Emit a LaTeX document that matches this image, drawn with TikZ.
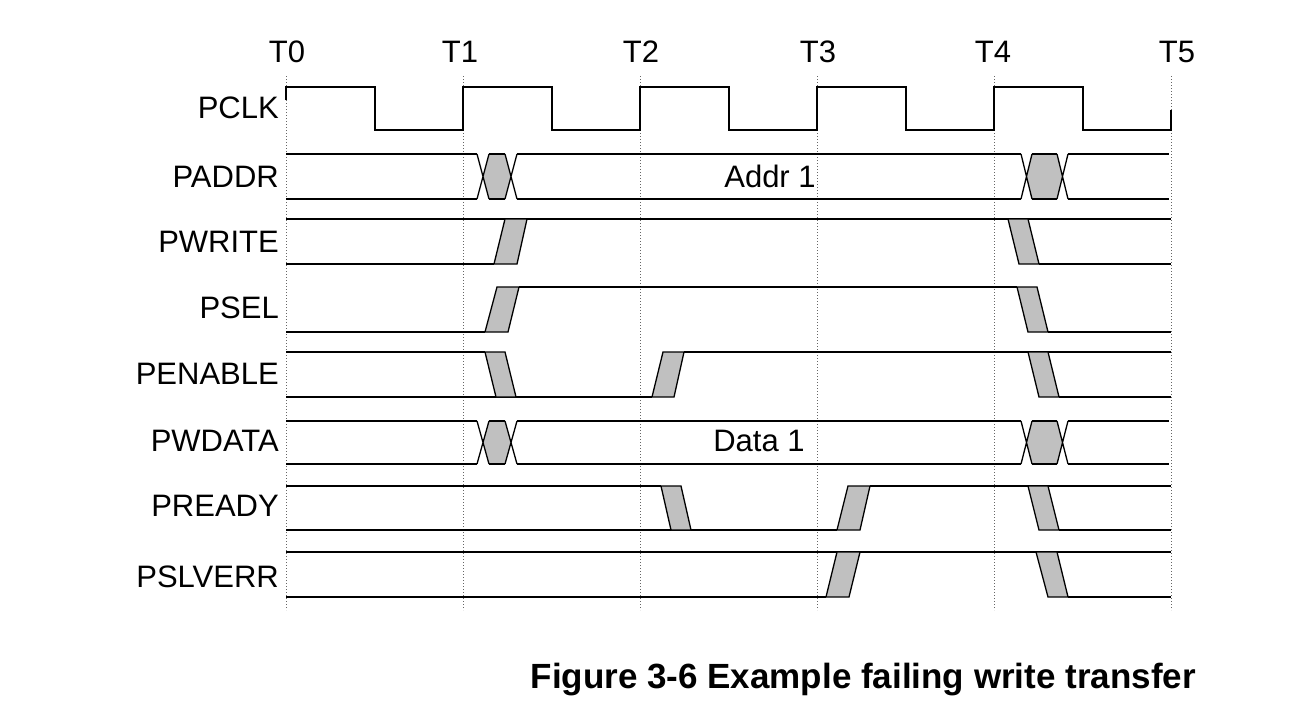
\documentclass[tikz,border=0pt]{standalone}
\usepackage{fontspec}
\setmainfont{Liberation Sans}
\tikzset{
  sig/.style={line width=1.3pt, line join=miter},
  trans/.style={sig, fill={rgb,255:red,192;green,192;blue,192}},
  tick/.style={dotted, line width=1pt, black!60},
  siglabel/.style={anchor=base east, inner sep=0pt, font=\fontsize{31}{32}\selectfont},
  tlabel/.style={anchor=base, inner sep=0pt, font=\fontsize{31}{32}\selectfont},
  buslabel/.style={inner sep=0pt, font=\fontsize{31}{32}\selectfont},
  titlelabel/.style={anchor=base east, inner sep=0pt, font=\fontsize{35}{36}\selectfont\bfseries}
}
% edge parallelogram: b1 b2 (bottom) t1 t2 (top) ytop ybot
\newcommand{\sigEdge}[6]{%
  \filldraw[trans] (#1,#6)--(#3,#5)--(#4,#5)--(#2,#6)--cycle;}
% bus crossing: xa xb xc xd ytop ybot
\newcommand{\busX}[6]{%
  \fill[trans,draw=none] ({(#1+#2)/2},{(#5+#6)/2})--(#2,#5)--(#3,#5)--({(#3+#4)/2},{(#5+#6)/2})--(#3,#6)--(#2,#6)--cycle;
  \draw[sig] (#2,#5)--(#3,#5) (#2,#6)--(#3,#6);
  \draw[sig] (#1,#5)--(#2,#6) (#1,#6)--(#2,#5) (#3,#5)--(#4,#6) (#3,#6)--(#4,#5);}
\begin{document}
\begin{tikzpicture}[x=1pt,y=-1pt]
\useasboundingbox (0,0) rectangle (1296,724);
% time ticks
\foreach \n/\x/\lx in {0/286/287,1/463/460,2/640/641,3/817/818,4/994/993,5/1171/1177}{
  \draw[tick] (\x,76) -- (\x,610);
  \node[tlabel] (T\n) at (\lx,62) {T\n};
}
% labels
\node[siglabel] (lpclk) at (279,118) {PCLK};
\node[siglabel] (lpaddr) at (279,187) {PADDR};
\node[siglabel] (lpwrite) at (279,252) {PWRITE};
\node[siglabel] (lpsel) at (279,318) {PSEL};
\node[siglabel] (lpenable) at (279,384) {PENABLE};
\node[siglabel] (lpwdata) at (279,451) {PWDATA};
\node[siglabel] (lpready) at (279,516) {PREADY};
\node[siglabel] (lpslverr) at (279,587) {PSLVERR};
% PCLK
\draw[sig] (286,100)--(286,87)--(375,87)--(375,130)--(463,130)--(463,87)--(552,87)--(552,130)
  --(640,130)--(640,87)--(729,87)--(729,130)--(817,130)--(817,87)--(906,87)--(906,130)
  --(994,130)--(994,87)--(1083,87)--(1083,130)--(1171,130)--(1171,110);
% PADDR
\draw[sig] (286,154)--(477,154) (286,199)--(477,199)
  (517,154)--(1021,154) (517,199)--(1021,199)
  (1068,154)--(1169,154) (1068,199)--(1169,199);
\busX{477}{489}{505}{517}{154}{199}
\busX{1021}{1032}{1057}{1068}{154}{199}
\node[buslabel] (addr) at (770,176.5) {Addr 1};
% PWRITE
\draw[sig] (286,219)--(1171,219) (286,264)--(494,264) (1039,264)--(1171,264);
\sigEdge{494}{517}{505}{527}{219}{264}
\sigEdge{1019}{1039}{1008}{1028}{219}{264}
% PSEL
\draw[sig] (286,332)--(485,332) (519,287)--(1017,287) (1048,332)--(1171,332);
\sigEdge{485}{508}{497}{519}{287}{332}
\sigEdge{1028}{1048}{1017}{1037}{287}{332}
% PENABLE
\draw[sig] (286,352)--(485,352) (286,397)--(652,397) (684,352)--(1171,352) (1059,397)--(1171,397);
\sigEdge{496}{516}{485}{505}{352}{397}
\sigEdge{652}{674}{663}{684}{352}{397}
\sigEdge{1039}{1059}{1028}{1048}{352}{397}
% PWDATA
\draw[sig] (286,421)--(477,421) (286,464)--(477,464)
  (517,421)--(1021,421) (517,464)--(1021,464)
  (1068,421)--(1169,421) (1068,464)--(1169,464);
\busX{477}{489}{505}{517}{421}{464}
\busX{1021}{1032}{1057}{1068}{421}{464}
\node[buslabel] (data) at (759,441) {Data 1};
% PREADY
\draw[sig] (286,486)--(661,486) (286,530)--(837,530) (870,486)--(1171,486) (1059,530)--(1171,530);
\sigEdge{671}{691}{661}{681}{486}{530}
\sigEdge{837}{860}{848}{870}{486}{530}
\sigEdge{1039}{1059}{1028}{1048}{486}{530}
% PSLVERR
\draw[sig] (286,552)--(1171,552) (286,597)--(826,597) (1068,597)--(1171,597);
\sigEdge{826}{849}{837}{860}{552}{597}
\sigEdge{1048}{1068}{1036}{1057}{552}{597}
% title
\node[titlelabel] (title) at (1196,688) {Figure 3-6 Example failing write transfer};
\end{tikzpicture}
\end{document}
